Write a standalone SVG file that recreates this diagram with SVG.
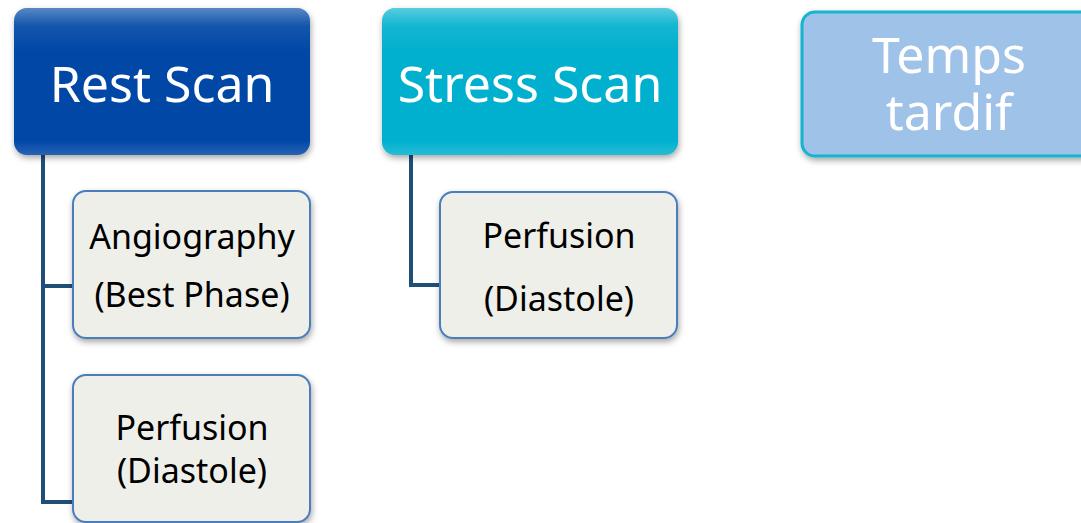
<svg xmlns="http://www.w3.org/2000/svg" width="1081" height="523" viewBox="0 0 1081 523">
<defs>
<filter id="sh" x="-10%" y="-10%" width="130%" height="130%">
<feDropShadow dx="1" dy="3" stdDeviation="3" flood-color="#000" flood-opacity="0.35"/>
</filter>
<linearGradient id="gloss" x1="0" y1="0" x2="0" y2="1">
<stop offset="0" stop-color="#fff" stop-opacity="0.35"/>
<stop offset="0.12" stop-color="#fff" stop-opacity="0.08"/>
<stop offset="0.3" stop-color="#fff" stop-opacity="0"/>
<stop offset="0.9" stop-color="#fff" stop-opacity="0"/>
<stop offset="1" stop-color="#fff" stop-opacity="0.15"/>
</linearGradient>
</defs>
<style>
.top{font-family:"Noto Sans","Open Sans",sans-serif;font-size:50px;fill:#fff;text-anchor:middle}
.sub{font-family:"Noto Sans","Open Sans",sans-serif;font-size:34px;fill:#000;text-anchor:middle}
.child{fill:#EFEFE9;stroke:#4A7EBB;stroke-width:2}
.conn{fill:none;stroke:#1F4E79;stroke-width:4;stroke-linejoin:miter}
</style>
<g id="connectors">
<path class="conn" d="M43,155 V502 H73 M43,286 H73"/>
<path class="conn" d="M411,155 V285 H440"/>
</g>
<g id="rest-scan">
<rect x="14" y="8" width="296" height="147" rx="13" fill="#0047A6" filter="url(#sh)"/>
<rect x="14" y="8" width="296" height="147" rx="13" fill="url(#gloss)"/>
<text class="top" x="162" y="102">Rest Scan</text>
</g>
<g id="stress-scan">
<rect x="382" y="8" width="296" height="147" rx="13" fill="#00B0CE" filter="url(#sh)"/>
<rect x="382" y="8" width="296" height="147" rx="13" fill="url(#gloss)"/>
<text class="top" x="530" y="102">Stress Scan</text>
</g>
<g id="temps-tardif">
<rect x="802" y="12" width="296" height="144" rx="13" fill="#9FC2E8" stroke="#12B4CF" stroke-width="3" filter="url(#sh)"/>
<text class="top" x="949" y="73">Temps</text>
<text class="top" x="949" y="130">tardif</text>
</g>
<g id="angiography">
<rect class="child" x="73" y="191" width="237" height="147" rx="13" filter="url(#sh)"/>
<text class="sub" x="192" y="249">Angiography</text>
<text class="sub" x="192" y="307">(Best Phase)</text>
</g>
<g id="rest-perfusion">
<rect class="child" x="73" y="375" width="237" height="147" rx="13" filter="url(#sh)"/>
<text class="sub" x="192" y="440">Perfusion</text>
<text class="sub" x="192" y="483">(Diastole)</text>
</g>
<g id="stress-perfusion">
<rect class="child" x="440" y="192" width="237" height="146" rx="13" filter="url(#sh)"/>
<text class="sub" x="559" y="248">Perfusion</text>
<text class="sub" x="559" y="311">(Diastole)</text>
</g>
</svg>
